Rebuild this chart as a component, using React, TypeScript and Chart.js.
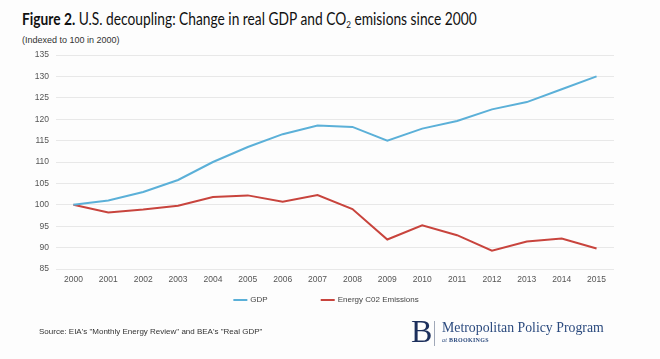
import React, { useEffect, useRef } from "react";
import { Chart, registerables } from "chart.js";

Chart.register(...registerables);

const years = ["2000", "2001", "2002", "2003", "2004", "2005", "2006", "2007", "2008", "2009", "2010", "2011", "2012", "2013", "2014", "2015"];
const gdpValues = [100, 101, 103, 105.8, 110, 113.5, 116.5, 118.5, 118.2, 115, 117.8, 119.6, 122.3, 124, 127, 130];
const co2Values = [100, 98.2, 98.9, 99.8, 101.8, 102.2, 100.7, 102.3, 99, 91.9, 95.2, 92.9, 89.3, 91.4, 92.1, 89.8];
const seriesLabels = ["GDP", "Energy C02 Emissions"];
const seriesColors = ["#5bb0d8", "#c8443d"];
const yMin = 85;
const yMax = 135;
const yStep = 5;

const TICK_FONT = "'Liberation Sans', Arial, sans-serif";

const legendPlugin = {
  id: "customLegend",
  afterDraw(chart: any) {
    const ctx = chart.ctx as CanvasRenderingContext2D;
    ctx.save();
    ctx.font = `8px ${TICK_FONT}`;
    const boxW = 14;
    const boxGap = 3;
    const itemGap = 53;
    const items = chart.data.datasets.map((ds: any) => ({
      label: ds.label as string,
      color: ds.borderColor as string,
      w: boxW + boxGap + ctx.measureText(ds.label).width,
    }));
    const total = items.reduce((s: number, i: any) => s + i.w, 0) + itemGap * (items.length - 1);
    let x = 326 - total / 2;
    const y = 300;
    ctx.textBaseline = "middle";
    ctx.textAlign = "left";
    for (const it of items) {
      ctx.fillStyle = it.color;
      ctx.fillRect(x, y - 1, boxW, 2);
      ctx.fillStyle = "#444";
      ctx.fillText(it.label, x + boxW + boxGap, y);
      x += it.w + itemGap;
    }
    ctx.restore();
  },
};

export default function App() {
  const ref = useRef<HTMLCanvasElement | null>(null);

  useEffect(() => {
    document.body.style.margin = "0";
    if (!ref.current) return;
    const chart = new Chart(ref.current, {
      type: "line",
      data: {
        labels: years,
        datasets: [
          {
            label: seriesLabels[0],
            data: gdpValues,
            borderColor: seriesColors[0],
            backgroundColor: seriesColors[0],
            borderWidth: 2,
            pointRadius: 0,
            tension: 0,
          },
          {
            label: seriesLabels[1],
            data: co2Values,
            borderColor: seriesColors[1],
            backgroundColor: seriesColors[1],
            borderWidth: 2,
            pointRadius: 0,
            tension: 0,
          },
        ],
      },
      options: {
        animation: false,
        responsive: false,
        maintainAspectRatio: false,
        layout: { padding: { top: 55, bottom: 70, left: 0, right: 46 } },
        plugins: {
          legend: { display: false },
          tooltip: { enabled: false },
          title: { display: false },
        },
        scales: {
          x: {
            type: "category",
            offset: true,
            grid: { display: false, drawTicks: false },
            border: { display: false },
            ticks: { font: { size: 8.5, family: TICK_FONT }, color: "#555", padding: 6, maxRotation: 0, autoSkip: false },
            afterFit: (s: any) => { s.height = 20; },
          },
          y: {
            min: yMin,
            max: yMax,
            grid: { color: "#e8e8e8", drawTicks: false, lineWidth: 1 },
            border: { display: false },
            ticks: { stepSize: yStep, font: { size: 8.5, family: TICK_FONT }, color: "#555", padding: 7 },
            afterFit: (s: any) => { s.width = 56; },
          },
        },
      },
      plugins: [legendPlugin],
    });
    return () => chart.destroy();
  }, []);

  return (
    <div style={{ position: "absolute", left: 0, top: 0, width: 660, height: 359, background: "#fdfdfd", overflow: "hidden" }}>
      <div style={{ position: "absolute", left: 22, top: 8, fontFamily: "Lato, 'Open Sans', sans-serif", fontSize: 17, color: "#111", whiteSpace: "nowrap", transform: "scaleX(0.81)", transformOrigin: "0 0" }}>
        <b>Figure 2.</b> U.S. decoupling: Change in real GDP and CO
        <sub style={{ fontSize: 10, verticalAlign: "-3px" }}>2</sub> emisions since 2000
      </div>
      <div style={{ position: "absolute", left: 22, top: 35, fontFamily: TICK_FONT, fontSize: 9, color: "#333", whiteSpace: "nowrap" }}>
        (Indexed to 100 in 2000)
      </div>
      <canvas ref={ref} width={660} height={359} style={{ position: "absolute", left: 0, top: 0 }} />
      <div style={{ position: "absolute", left: 39, top: 327, fontFamily: TICK_FONT, fontSize: 8, color: "#333", whiteSpace: "nowrap" }}>
        Source: EIA's "Monthly Energy Review" and BEA's "Real GDP"
      </div>
      <div style={{ position: "absolute", left: 411, top: 313, fontFamily: "'Liberation Serif', 'DejaVu Serif', serif", fontSize: 32, color: "#1c2f5c", lineHeight: "36px" }}>
        B
      </div>
      <div style={{ position: "absolute", left: 434, top: 321, width: 1, height: 25, background: "#a0a8b8" }} />
      <div style={{ position: "absolute", left: 442, top: 318, fontFamily: "'Liberation Serif', 'DejaVu Serif', serif", fontSize: 15, color: "#2b4a7e", whiteSpace: "nowrap", lineHeight: "18px", transform: "scaleX(0.92)", transformOrigin: "0 0" }}>
        Metropolitan Policy Program
      </div>
      <div style={{ position: "absolute", left: 442, top: 336, fontFamily: "'Liberation Serif', 'DejaVu Serif', serif", fontSize: 6, color: "#2b4a7e", whiteSpace: "nowrap", letterSpacing: 0.3, lineHeight: "8px" }}>
        <i>at</i> <b>BROOKINGS</b>
      </div>
    </div>
  );
}
